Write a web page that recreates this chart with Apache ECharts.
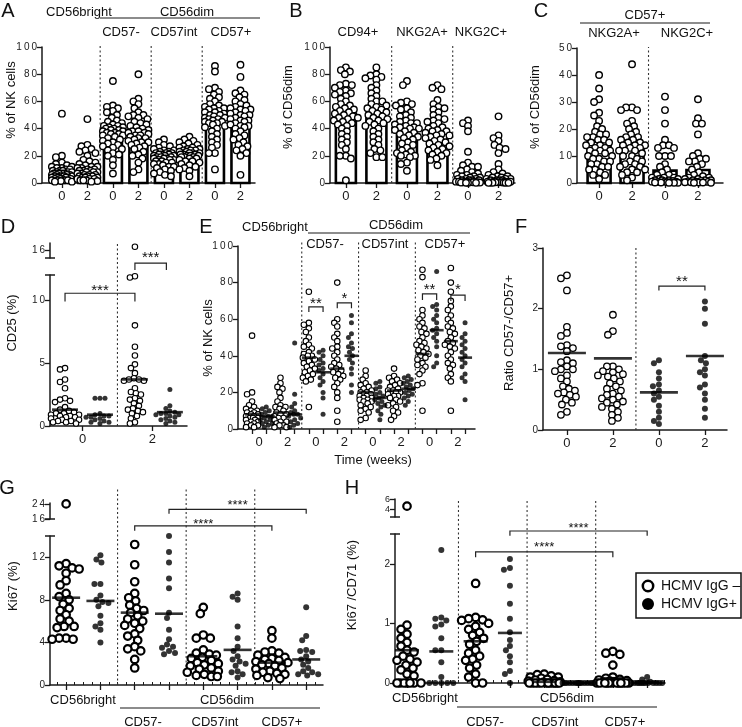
<!DOCTYPE html>
<html><head><meta charset="utf-8">
<script src="https://cdn.jsdelivr.net/npm/echarts@6/dist/echarts.min.js"></script>
<style>html,body{margin:0;padding:0;background:#fff}#c{width:742px;height:727px}</style>
</head><body><div id="c"></div>
<script>
// ================= DATA =================
// Panel A: % of NK cells (bars = means, points = donors)
const A_ticks = ['0','2','0','2','0','2','0','2'];
const A_bars = [8, 9.5, 36.5, 36, 19.5, 21, 46, 45];
const A_bright_w0 = [51,20,19,15,14,13,12,12,11,11,10,10,9,9,8,8,8,7,7,7,6,6,6,6,5,5,5,5,4,4,4,4,3,3,3,3,2,2,2,2,1.5,1,1,9,7];
const A_bright_w2 = [47,28,27,25,24,23,22,20,17,16,15,14,13,12,12,11,11,10,10,9,9,8,8,7,7,6,6,6,5,5,5,4,4,4,3,3,3,2,2,2,1.5,1,8,9];
const A_cd57neg_w0 = [75,57,56,55,53,52,50,48,46,45,44,43,42,41,41,40,40,39,38,38,37,36,36,35,35,34,33,32,31,30,29,28,27,26,25,24,22,21,20,17,13,7,39,37,42];
const A_cd57neg_w2 = [80,62,60,58,55,52,50,50,49,48,47,45,44,43,41,40,39,38,37,36,35,34,33,32,31,30,29,28,27,26,25,23,21,20,18,15,10,8,35,37,33,30,38,42];
const A_cd57int_w0 = [32,30,28,27,26,25,24,23,23,22,22,21,21,20,20,19,19,19,18,18,18,17,17,16,16,15,15,14,14,13,12,12,11,10,9,8,7,6,5,20,21,17,22,24];
const A_cd57int_w2 = [34,32,31,30,29,28,27,26,25,25,24,24,23,23,22,22,21,21,20,20,19,19,18,18,17,16,16,15,14,13,12,11,10,9,5,20,22,24,19,21,26];
const A_cd57pos_w0 = [86,82,70,69,67,65,63,62,60,58,57,56,55,54,53,52,51,50,49,48,47,46,45,44,43,42,41,40,38,36,34,32,30,28,26,22,22,10,48,50,45,52,55,44,47];
const A_cd57pos_w2 = [87,78,68,66,65,63,61,60,58,57,55,54,53,52,51,50,48,47,46,45,44,43,42,41,40,38,36,35,33,32,30,28,27,25,24,22,20,6,46,49,42,50,54,56];

// Panel B: % of CD56dim
const B_ticks = ['0','2','0','2','0','2'];
const B_bars = [51, 50.5, 39.5, 37.5, 8, 6];
const B_cd94_w0 = [85,83,82,80,73,72,72,70,68,67,66,65,64,62,60,58,57,56,55,54,52,50,49,48,47,46,45,44,43,42,40,38,36,34,32,30,28,25,20,20,18,2,53,51,48];
const B_cd94_w2 = [85,80,79,78,77,76,72,70,68,66,64,62,60,60,58,56,55,54,52,51,50,49,48,47,45,44,42,40,38,36,34,32,30,28,25,24,22,19,19,53,57,46,43];
const B_nkg2a_w0 = [75,72,60,59,58,57,55,54,52,50,49,48,46,45,44,43,42,41,40,40,39,38,36,35,34,33,32,30,28,26,24,22,21,20,20,19,15,14,9,37,41,44,29,23];
const B_nkg2a_w2 = [72,70,69,61,58,56,55,54,52,50,48,47,46,45,44,42,40,39,38,37,36,35,34,33,32,30,29,28,27,26,25,24,23,22,21,20,18,17,13,38,41,31,35];
const B_nkg2c_w0 = [46,44,42,38,23,15,13,12,12,10,9,8,7,6,6,5,5,4,4,3,3,3,2,2,2,2,1,1,1,1,1,0.5,0.5,0.5,0.5,0.3,0.3,0.2,0.2,0.1];
const B_nkg2c_w2 = [49,35,33,31,28,26,25,22,14,10,8,7,6,5,5,4,4,3,3,3,2,2,2,2,1,1,1,1,1,0.5,0.5,0.5,0.3,0.3,0.2,0.2,0.1,0.1];

// Panel C: CD57+ subsets, % of CD56dim
const C_ticks = ['0','2','0','2'];
const C_bars = [15.3, 14, 4.6, 4.8];
const C_nkg2a_w0 = [40,35,31,30,26,25,23,21,20,19,18,18,17,16,16,15,15,14,14,13,12,12,11,11,10,10,9,9,8,8,7,7,6,6,5,5,4,3,3,1.5,13,17,12];
const C_nkg2a_w2 = [44,28,28,27,27,23,22,21,20,19,18,17,17,16,16,15,15,14,14,13,13,12,12,11,10,10,9,8,8,7,7,6,6,5,5,4,4,3,2,1,12,14];
const C_nkg2c_w0 = [32,27,22,16,14,14,13,13,10,10,10,7,6,5,4,3,3,2,2,2,1.5,1.5,1,1,1,0.8,0.6,0.5,0.5,0.4,0.3,0.3,0.2,0.2,0.1,0.1,0.1];
const C_nkg2c_w2 = [31,24,22,22,18,11,10,9,9,8,8,7,6,5,4,3,2.5,2,2,1.5,1.5,1,1,1,0.8,0.6,0.5,0.4,0.3,0.3,0.2,0.2,0.1,0.1];

// Panel D: CD25 (%), open = HCMV IgG-, filled = HCMV IgG+
const D_ticks = ['0','2'];
const D_neg_w0 = [4.6,4.5,3.7,3.5,3.0,2.2,2.1,2.0,1.9,1.5,1.3,1.2,1.1,1.0,1.0,0.9,0.9,0.8,0.8,0.7,0.7,0.6,0.6,0.5,0.5,0.4,0.4,0.3,0.3,0.2];
const D_pos_w0 = [2.2,2.2,2.2,1.0,0.9,0.8,0.8,0.7,0.7,0.6,0.5,0.4,0.3,0.3,0.2];
const D_neg_w2 = [16.5,11.9,11.8,8.0,6.3,5.6,4.9,4.6,4.2,3.8,3.7,3.7,3.6,3.6,3.0,2.7,2.6,2.5,2.2,2.1,2.0,1.8,1.6,1.4,1.3,1.2,1.1,1.0,0.8,0.6,0.3,0.2];
const D_pos_w2 = [2.9,1.6,1.4,1.2,1.1,1.0,1.0,0.9,0.9,0.8,0.7,0.6,0.5,0.4,0.3,0.2];
const D_medians = [1.3, 0.9, 3.7, 1.1];

// Panel E: % of NK cells over time
const E_ticks = ['0','2','0','2','0','2','0','2'];
const E_bright_neg_w0 = [51,20,19,15,13,12,11,10,10,9,9,8,8,7,6,6,5,5,4,4,3,3,2,2,1,1,6,7];
const E_bright_pos_w0 = [12,11,10,9,8,7,7,6,5,5,4,3,3,2,1];
const E_bright_neg_w2 = [28,25,23,22,20,17,15,13,12,12,11,10,9,8,8,7,6,6,5,4,4,3,2,2,1,1];
const E_bright_pos_w2 = [47,19,14,12,10,9,8,8,7,6,5,4,3,2,1];
const E_57neg_neg_w0 = [75,58,57,55,53,50,48,46,45,44,42,41,40,40,39,38,37,36,35,34,33,32,31,30,29,28,27,26,12];
const E_57neg_pos_w0 = [43,42,40,38,36,35,33,32,30,28,26,24,20,17,8];
const E_57neg_neg_w2 = [80,60,58,56,52,50,48,45,44,42,40,38,36,35,34,33,32,31,30,29,28,27,25,23,20,17,10,4];
const E_57neg_pos_w2 = [62,58,52,50,47,45,44,42,40,38,36,33,30,24,20];
const E_57int_neg_w0 = [32,29,27,25,24,23,22,21,20,20,19,19,18,18,17,17,16,16,15,15,14,13,12,11,10,9,6,5];
const E_57int_pos_w0 = [26,25,23,22,20,19,18,17,16,15,14,13,12,10,8,5];
const E_57int_neg_w2 = [33,29,28,27,26,25,24,23,22,21,21,20,20,19,19,18,18,17,16,15,14,13,12,10,9,7,5];
const E_57int_pos_w2 = [29,28,27,26,25,24,23,22,21,20,19,18,17,15,13];
const E_57pos_neg_w0 = [87,83,65,62,60,58,56,55,53,52,50,48,47,46,45,44,43,42,41,40,39,38,36,35,34,32,30,25,24,10];
const E_57pos_pos_w0 = [86,68,67,65,62,60,58,55,54,52,50,48,45,40,36,34];
const E_57pos_neg_w2 = [88,80,75,70,67,65,62,60,58,56,55,53,52,50,48,47,46,45,44,42,40,38,36,35,33,30,28,26,10];
const E_57pos_pos_w2 = [58,52,50,48,46,44,42,40,38,36,34,30,28,26,16];
const E_medians = [8,7,9,8,39,31,33,40,20,17,21,22,41,54,48,39];

// Panel F: ratio CD57-/CD57+
const F_ticks = ['0','2','0','2'];
const F_neg_w0 = [2.55,2.5,2.3,1.7,1.6,1.55,1.4,1.38,1.35,1.3,1.15,1.12,1.1,1.05,1.0,1.0,0.97,0.9,0.85,0.8,0.72,0.68,0.65,0.62,0.6,0.58,0.55,0.5,0.45,0.42,0.3,0.25];
const F_neg_w2 = [1.9,1.63,1.57,1.05,1.05,1.0,0.97,0.95,0.92,0.9,0.88,0.85,0.8,0.77,0.72,0.68,0.65,0.6,0.58,0.55,0.52,0.5,0.47,0.45,0.42,0.38,0.35,0.3,0.25,0.2,0.15];
const F_pos_w0 = [1.15,1.1,0.95,0.85,0.75,0.72,0.65,0.6,0.55,0.5,0.4,0.3,0.2,0.15,0.1];
const F_pos_w2 = [2.12,2.0,1.75,1.22,1.15,1.1,1.0,0.95,0.9,0.75,0.7,0.6,0.5,0.35,0.2];
const F_medians = [1.27, 1.18, 0.62, 1.22];

// Panel G: Ki67 (%)
const G_neg_bright = [24,11.4,11.2,11.0,10.9,10.5,9.8,9.4,8.6,8.3,8.0,7.6,7.2,7.0,6.6,6.2,6.0,5.5,5.5,5.4,4.4,4.4,4.3,4.3];
const G_pos_bright = [12.2,11.8,11.5,9.5,9.5,8.4,8.0,7.8,7.7,7.4,6.5,5.8,5.5,5.2,4.0];
const G_neg_57neg = [13.2,11.3,9.7,8.6,8.2,7.9,7.5,7.2,7.0,6.8,6.5,6.2,6.0,5.8,5.6,5.3,4.8,4.6,4.2,3.6,3.4,3.2,2.4,1.6];
const G_pos_57neg = [14.0,12.5,11.5,10.0,9.1,6.8,6.3,5.2,4.3,3.8,3.6,3.5,3.2,3.0,2.9];
const G_neg_57int = [7.3,6.7,4.7,4.4,4.4,3.3,3.0,2.9,2.8,2.6,2.5,2.3,2.1,2.0,1.9,1.8,1.6,1.5,1.3,1.2,1.0,0.9,0.8,0.8];
const G_pos_57int = [8.6,8.3,8.0,5.5,4.4,3.6,3.2,2.7,2.4,2.2,2.0,1.8,1.3,1.2,1.0,0.7];
const G_neg_57pos = [5.1,4.4,3.2,3.1,3.0,2.8,2.6,2.5,2.4,2.3,2.2,2.1,2.0,1.9,1.8,1.6,1.5,1.3,1.2,1.1,1.0,0.9,0.7,0.6];
const G_pos_57pos = [7.3,4.6,4.2,3.3,3.2,3.1,2.7,2.4,2.2,1.9,1.6,1.3,1.2,1.0,1.0,0.9];
const G_medians = [8.2, 7.9, 6.8, 6.7, 2.7, 3.3, 2.1, 2.4];

// Panel H: Ki67/CD71 (%)
const H_neg_bright = [4.7,0.97,0.9,0.82,0.75,0.68,0.62,0.55,0.52,0.45,0.4,0.38,0.35,0.3,0.25,0.22,0.2,0.15,0.12,0,0,0,0,0,0,0,0];
const H_pos_bright = [2.23,1.1,1.08,1.05,0.98,0.95,0.75,0.55,0.55,0.35,0.1,0,0,0,0,0];
const H_neg_57neg = [1.67,1.1,1.08,1.06,1.05,1.0,0.95,0.9,0.85,0.8,0.75,0.7,0.65,0.55,0.5,0.45,0.4,0.38,0.3,0.25,0.15,0.1,0,0];
const H_pos_57neg = [2.08,1.93,1.9,1.63,1.33,1.08,0.85,0.72,0.62,0.55,0.45,0.35,0.2,0.15,0];
const H_neg_57int = [0.15,0.14,0.12,0.1,0.1,0.08,0.06,0.05,0.04,0.03,0.02,0.01,0,0,0,0,0,0,0,0,0,0,0,0];
const H_pos_57int = [0,0,0,0,0,0,0,0,0,0,0,0,0,0,0];
const H_neg_57pos = [0.53,0.5,0.48,0.3,0.1,0.08,0.06,0.05,0.04,0.03,0.02,0.01,0,0,0,0,0,0,0,0,0,0,0,0];
const H_pos_57pos = [0.1,0.06,0.02,0,0,0,0,0,0,0,0,0,0,0,0];
const H_medians = [0.55, 0.53, 0.7, 0.84, 0.02, 0, 0.08, 0.02];

// ================= CHART =================
const FONT = "'Liberation Sans', Arial, sans-serif";
const INK = '#1a1a1a';
const chart = echarts.init(document.getElementById('c'), null, {renderer: 'canvas'});
const spaced = v => String(v).split('').join('\u2009');
const range = (a, b, s) => { const r = []; for (let v = a; v <= b + 1e-9; v += s) r.push(+v.toFixed(4)); return r; };

const grids = [
  {left: 42, top: 47, width: 213, height: 136},   // 0 A
  {left: 330, top: 47, width: 185, height: 136},  // 1 B
  {left: 577, top: 48, width: 146, height: 135},  // 2 C
  {left: 50, top: 275, width: 137, height: 151},  // 3 D
  {left: 50, top: 243, width: 137, height: 15},   // 4 D top
  {left: 238, top: 246, width: 237, height: 183}, // 5 E
  {left: 543, top: 248, width: 184, height: 182}, // 6 F
  {left: 50, top: 536, width: 273, height: 149},  // 7 G
  {left: 50, top: 503, width: 273, height: 16},   // 8 G top
  {left: 395, top: 534, width: 270, height: 149}, // 9 H
  {left: 395, top: 499, width: 270, height: 18}   // 10 H top
];

const lineSt = {color: INK, width: 1.5};
function xAx(g, min, max, ticks, labelVals, fmt, opt = {}) {
  return Object.assign({
    type: 'value', gridIndex: g, min, max,
    axisLine: {show: true, onZero: false, lineStyle: lineSt},
    axisTick: {show: !!ticks, length: 5, customValues: ticks || [], lineStyle: {color: INK, width: 1.3}},
    axisLabel: {show: !!labelVals, customValues: labelVals || [], formatter: fmt, fontSize: 13, color: INK, margin: 7, fontFamily: FONT, hideOverlap: false},
    splitLine: {show: false}
  }, opt);
}
function yAx(g, min, max, vals, opt = {}) {
  return Object.assign({
    type: 'value', gridIndex: g, min, max,
    axisLine: {show: true, onZero: false, lineStyle: lineSt},
    axisTick: {show: true, length: 5, customValues: vals, lineStyle: {color: INK, width: 1.3}},
    axisLabel: {show: true, customValues: vals, formatter: v => spaced(v), fontSize: 10, color: '#222', margin: 5, fontFamily: FONT, hideOverlap: false},
    splitLine: {show: false}
  }, opt);
}
const idx = n => range(0, n - 1, 1);
const lab = arr => v => arr[Math.round(v)] ?? '';

const xAxes = [
  xAx(0, -0.78, 7.57, idx(8), idx(8), lab(A_ticks)),
  xAx(1, -0.52, 5.54, idx(6), idx(6), lab(B_ticks)),
  xAx(2, -0.67, 3.76, idx(4), idx(4), lab(C_ticks)),
  xAx(3, -0.43, 3.49, [0.5, 2.5], [0.5, 2.5], v => D_ticks[Math.round((v - 0.5) / 2)]),
  xAx(4, -0.43, 3.49, null, null, null, {show: false}),
  xAx(5, -0.99, 15.7, idx(16), range(0.5, 14.5, 2), v => E_ticks[Math.round((v - 0.5) / 2)]),
  xAx(6, -0.52, 3.48, idx(4), idx(4), lab(F_ticks)),
  xAx(7, -0.47, 7.49, idx(8), null, null),
  xAx(8, -0.47, 7.49, null, null, null, {show: false}),
  xAx(9, -0.35, 7.52, idx(8), null, null),
  xAx(10, -0.35, 7.52, null, null, null, {show: false}),
  // minor tick rows for G and H
  xAx(7, -0.47, 7.49, range(-0.25, 7.25, 0.25), null, null, {axisLine: {show: false}, axisTick: {show: true, length: 3, customValues: range(-0.25, 7.25, 0.25), lineStyle: {color: INK, width: 1}}}),
  xAx(9, -0.35, 7.52, range(-0.25, 7.5, 0.25), null, null, {axisLine: {show: false}, axisTick: {show: true, length: 3, customValues: range(-0.25, 7.5, 0.25), lineStyle: {color: INK, width: 1}}})
];
const yAxes = [
  yAx(0, 0, 100, range(0, 100, 20)),
  yAx(1, 0, 100, range(0, 100, 20)),
  yAx(2, 0, 50, range(0, 50, 10)),
  yAx(3, 0, 12, [0, 5, 10]),
  yAx(4, 15, 17, [16]),
  yAx(5, 0, 100, range(0, 100, 20)),
  yAx(6, 0, 3, [0, 1, 2, 3]),
  yAx(7, 0, 14, [0, 4, 8, 12]),
  yAx(8, 16, 24.5, [16, 24]),
  yAx(9, 0, 2.5, [0, 1, 2]),
  yAx(10, 2.5, 6.15, [4, 6], {axisLabel: {show: true, customValues: [4, 6], fontSize: 9, color: '#222', margin: 5, fontFamily: FONT, hideOverlap: false}})
];

chart.setOption({
  animation: false,
  backgroundColor: '#fff',
  textStyle: {fontFamily: FONT},
  grid: grids,
  xAxis: xAxes,
  yAxis: yAxes,
  series: grids.map((g, i) => ({type: 'scatter', xAxisIndex: i, yAxisIndex: i, data: []}))
});

const P = (xi, yi, x, y) => chart.convertToPixel({xAxisIndex: xi, yAxisIndex: yi}, [x, y]);

// Beeswarm placement in pixel space, converted back to data x
function swarm(vals, cx, xi, yi, diam, maxHalf) {
  const c = P(xi, yi, cx, 0)[0];
  const unit = P(xi, yi, cx + 1, 0)[0] - c;
  const items = vals.map(v => ({v, py: P(xi, yi, cx, v)[1]}));
  items.sort((a, b) => a.py - b.py);
  const placed = [];
  items.forEach(it => {
    let best = 0, bestD = -1;
    for (let k = 0; k <= 2 * maxHalf; k++) {
      const off = (k % 2 ? -1 : 1) * Math.ceil(k / 2);
      let m = Infinity;
      for (const q of placed) { const d = Math.hypot(off - q.off, it.py - q.py); if (d < m) m = d; }
      if (m >= diam) { best = off; break; }
      if (m > bestD) { bestD = m; best = off; }
    }
    it.off = best; placed.push(it);
  });
  return items.map(it => [cx + it.off / unit, it.v]);
}

const series = [];
function pts(data, xi, yi, filled, size, bw) {
  series.push({
    type: 'scatter', xAxisIndex: xi, yAxisIndex: yi, data, symbol: 'circle', symbolSize: size,
    silent: true, z: 3,
    itemStyle: filled ? {color: '#000', borderWidth: 0} : {color: '#fff', borderColor: '#000', borderWidth: bw, opacity: 1}
  });
}
function bars(values, gi, halfW) {
  series.push({
    type: 'custom', xAxisIndex: gi, yAxisIndex: gi, z: 1, silent: true,
    data: values.map((v, i) => [i, v]),
    renderItem: (params, api) => {
      const p0 = api.coord([api.value(0), 0]), p1 = api.coord([api.value(0), api.value(1)]);
      return {type: 'rect', shape: {x: p0[0] - halfW, y: p1[1], width: 2 * halfW, height: p0[1] - p1[1]},
        style: {fill: '#fff', stroke: '#000', lineWidth: 2.6}};
    }
  });
}
function medians(values, gi, w) {
  series.push({
    type: 'scatter', xAxisIndex: gi, yAxisIndex: gi, z: 5, silent: true,
    symbol: 'rect', symbolSize: [w, 2.6], itemStyle: {color: '#000'},
    data: values.map((v, i) => [i, v])
  });
}
// panel: groups list with filled flags; break handling
function panel(groups, gi, topGi, breakAt, st) {
  const mainO = [], mainF = [], topO = [], topF = [];
  groups.forEach((g, i) => {
    const lo = g.vals.filter(v => breakAt == null || v <= breakAt);
    const hi = breakAt == null ? [] : g.vals.filter(v => v > breakAt);
    const d = g.filled ? st.fs : st.os;
    const a = swarm(lo, i, gi, gi, d * st.pack, st.half);
    (g.filled ? mainF : mainO).push(...a);
    if (hi.length) (g.filled ? topF : topO).push(...swarm(hi, i, topGi, topGi, d * st.pack, st.half));
  });
  if (mainO.length) pts(mainO, gi, gi, false, st.os, st.bw);
  if (mainF.length) pts(mainF, gi, gi, true, st.fs, 0);
  if (topO.length) pts(topO, topGi, topGi, false, st.os, st.bw);
  if (topF.length) pts(topF, topGi, topGi, true, st.fs, 0);
}
const O = vals => ({vals, filled: false});
const F_ = vals => ({vals, filled: true});

bars(A_bars, 0, 9);
panel([A_bright_w0, A_bright_w2, A_cd57neg_w0, A_cd57neg_w2, A_cd57int_w0, A_cd57int_w2, A_cd57pos_w0, A_cd57pos_w2].map(O), 0, null, null, {os: 6.5, fs: 6, bw: 1.4, half: 10, pack: 0.8});
bars(B_bars, 1, 10);
panel([B_cd94_w0, B_cd94_w2, B_nkg2a_w0, B_nkg2a_w2, B_nkg2c_w0, B_nkg2c_w2].map(O), 1, null, null, {os: 6.5, fs: 6, bw: 1.4, half: 12, pack: 0.8});
bars(C_bars, 2, 11.5);
panel([C_nkg2a_w0, C_nkg2a_w2, C_nkg2c_w0, C_nkg2c_w2].map(O), 2, null, null, {os: 6.5, fs: 6, bw: 1.4, half: 13, pack: 0.85});

panel([O(D_neg_w0), F_(D_pos_w0), O(D_neg_w2), F_(D_pos_w2)], 3, 4, 12, {os: 5.5, fs: 5, bw: 1.1, half: 14, pack: 0.92});
medians(D_medians, 3, 26);

panel([E_bright_neg_w0, E_bright_pos_w0, E_bright_neg_w2, E_bright_pos_w2,
       E_57neg_neg_w0, E_57neg_pos_w0, E_57neg_neg_w2, E_57neg_pos_w2,
       E_57int_neg_w0, E_57int_pos_w0, E_57int_neg_w2, E_57int_pos_w2,
       E_57pos_neg_w0, E_57pos_pos_w0, E_57pos_neg_w2, E_57pos_pos_w2].map((v, i) => i % 2 ? F_(v) : O(v)),
  5, null, null, {os: 5.5, fs: 5, bw: 1.1, half: 6, pack: 0.85});
medians(E_medians, 5, 14);

panel([O(F_neg_w0), O(F_neg_w2), F_(F_pos_w0), F_(F_pos_w2)], 6, null, null, {os: 6.5, fs: 6, bw: 1.3, half: 17, pack: 0.92});
medians(F_medians, 6, 38);

panel([G_neg_bright, G_pos_bright, G_neg_57neg, G_pos_57neg, G_neg_57int, G_pos_57int, G_neg_57pos, G_pos_57pos].map((v, i) => i % 2 ? F_(v) : O(v)),
  7, 8, 14, {os: 7.5, fs: 6, bw: 2.2, half: 16, pack: 0.92});
medians(G_medians, 7, 28);

panel([H_neg_bright, H_pos_bright, H_neg_57neg, H_pos_57neg, H_neg_57int, H_pos_57int, H_neg_57pos, H_pos_57pos].map((v, i) => i % 2 ? F_(v) : O(v)),
  9, 10, 2.5, {os: 7.5, fs: 6, bw: 2.2, half: 16, pack: 0.92});
medians(H_medians, 9, 24);

// ================= ANNOTATIONS =================
const G = [];
const txt = (t, x, y, size = 13, opt = {}) => G.push(Object.assign({
  type: 'text', x, y, z: 20,
  style: {text: t, font: `${size}px ${FONT}`, fill: '#111', align: 'center', verticalAlign: 'middle', textAlign: 'center', textVerticalAlign: 'middle'}
}, opt));
const vtxt = (t, x, y, size = 13) => txt(t, x, y, size, {rotation: Math.PI / 2});
const hline = (x1, x2, y, color = '#666', w = 1.5) => G.push({type: 'line', z: 20, shape: {x1, y1: y, x2, y2: y}, style: {stroke: color, lineWidth: w}});
function sep(gi, xv, topPx) {
  const p = P(gi, gi, xv, 0);
  G.push({type: 'line', z: 1, shape: {x1: p[0], y1: p[1], x2: p[0], y2: topPx}, style: {stroke: '#333', lineWidth: 1.1, lineDash: [2, 2.5]}});
}
function cap(gi, yv) {
  const xmin = chart.getModel().getComponent('xAxis', gi).get('min');
  const p = P(gi, gi, xmin, yv);
  G.push({type: 'line', z: 20, shape: {x1: p[0] - 5, y1: p[1], x2: p[0] + 5, y2: p[1]}, style: {stroke: INK, lineWidth: 1.5}});
}
function bracket(gi, x1, x2, yTop, yLeg, stars, yStar, size = 15) {
  const a = P(gi, gi, x1, yLeg), b = P(gi, gi, x1, yTop), c = P(gi, gi, x2, yTop), d = P(gi, gi, x2, yLeg);
  G.push({type: 'polyline', z: 20, shape: {points: [a, b, c, d]}, style: {stroke: '#222', lineWidth: 1.2, fill: null}});
  const s = P(gi, gi, (x1 + x2) / 2, yStar);
  txt(stars, s[0], s[1] + 3, size);
}

// panel letters
[['A', 8, 11], ['B', 296, 11], ['C', 541, 11], ['D', 8, 227], ['E', 206, 227], ['F', 521, 227], ['G', 7, 488], ['H', 352, 488]]
  .forEach(([t, x, y]) => txt(t, x, y, 20));

// A headers
txt('CD56bright', 79, 12); txt('CD56dim', 187, 12); hline(100, 260, 18);
txt('CD57-', 121, 32); txt('CD57int', 174, 32); txt('CD57+', 231, 32);
vtxt('% of NK cells', 11, 100);
// B headers
txt('CD94+', 358, 32); txt('NKG2A+', 422, 32); txt('NKG2C+', 481, 32);
vtxt('% of CD56dim', 288, 107);
// C headers
txt('CD57+', 645, 15); hline(580, 710, 23); txt('NKG2A+', 614, 33); txt('NKG2C+', 687, 33);
vtxt('% of CD56dim', 535, 107);
// D
vtxt('CD25 (%)', 12, 323);
// E
txt('CD56bright', 275, 227, 13); txt('CD56dim', 396, 225, 13); hline(308, 470, 233);
txt('CD57-', 325, 244, 13); txt('CD57int', 385, 244, 13); txt('CD57+', 445, 244, 13);
vtxt('% of NK cells', 208, 338);
txt('Time (weeks)', 373, 460, 13);
// F
vtxt('Ratio CD57-/CD57+', 509, 333);
// G
vtxt('Ki67 (%)', 13, 586);
txt('CD56bright', 83, 700); txt('CD56dim', 227, 700); hline(120, 320, 708);
txt('CD57-', 143, 722); txt('CD57int', 215, 722); txt('CD57+', 282, 722);
// H
vtxt('Ki67 /CD71 (%)', 352, 585);
txt('CD56bright', 425, 698); txt('CD56dim', 567, 698); hline(457, 657, 707);
txt('CD57-', 485, 722); txt('CD57int', 555, 722); txt('CD57+', 625, 722);

// dashed separators
[1.5, 3.5, 5.5].forEach(v => sep(0, v, 45));
[1.5, 3.5].forEach(v => sep(1, v, 45));
sep(2, 1.5, 47);
sep(3, 1.5, 243);
[3.5, 7.5, 11.5].forEach(v => sep(5, v, 240));
sep(6, 1.5, 247);
[1.5, 3.5, 5.5].forEach(v => sep(7, v, 489));
[1.5, 3.5, 5.5].forEach(v => sep(9, v, 500));

// axis-break caps
cap(4, 15); cap(3, 12);
cap(8, 16); cap(7, 14);
cap(10, 2.5); cap(9, 2.5);

// significance brackets
bracket(3, 0, 2, 10.55, 9.9, '***', 10.95);
bracket(3, 2, 2.9, 12.95, 12.4, '***', 13.6);
bracket(5, 4, 5, 66.7, 64, '**', 70);
bracket(5, 6, 7, 68.9, 66, '*', 72.5);
bracket(5, 12, 13, 73.8, 70.5, '**', 77.5);
bracket(5, 14, 15, 73.2, 70, '*', 77.5);
bracket(6, 2, 3, 2.37, 2.3, '**', 2.49);
bracket(7, 2, 6, 14.96, 14.5, '****', 15.4, 13);
bracket(7, 3, 7, 16.5, 16.1, '****', 17.2, 13);
bracket(9, 2, 6, 2.2, 2.11, '****', 2.32, 13);
bracket(9, 3, 7, 2.55, 2.47, '****', 2.65, 13);

// legend
G.push({type: 'rect', z: 20, shape: {x: 636, y: 573, width: 105, height: 45}, style: {fill: '#fff', stroke: '#111', lineWidth: 1.5}});
G.push({type: 'circle', z: 21, shape: {cx: 648, cy: 586, r: 5.2}, style: {fill: '#fff', stroke: '#000', lineWidth: 2.5}});
G.push({type: 'circle', z: 21, shape: {cx: 648, cy: 604, r: 6}, style: {fill: '#000'}});
txt('HCMV IgG \u2013', 661, 586, 14, {style: {text: 'HCMV IgG \u2013', font: `14px ${FONT}`, fill: '#111', align: 'left', verticalAlign: 'middle', textAlign: 'left', textVerticalAlign: 'middle'}, z: 21});
txt('HCMV IgG+', 661, 604, 14, {style: {text: 'HCMV IgG+', font: `14px ${FONT}`, fill: '#111', align: 'left', verticalAlign: 'middle', textAlign: 'left', textVerticalAlign: 'middle'}, z: 21});

chart.setOption({series, graphic: {elements: G}});
</script>
</body></html>
